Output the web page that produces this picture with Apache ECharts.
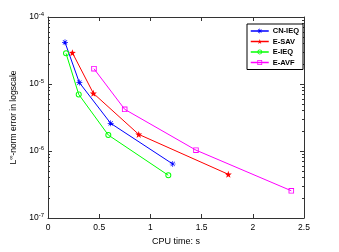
<!DOCTYPE html>
<html><head><meta charset="utf-8">
<script src="https://cdn.jsdelivr.net/npm/echarts@6/dist/echarts.min.js"></script>
<style>html,body{margin:0;padding:0;background:#fff}#c{width:339px;height:252px}</style>
</head><body><div id="c"></div>
<script>
var seriesNames = ['CN-IEQ','E-SAV','E-IEQ','E-AVF'];
var cnIeqX = [0.166, 0.306, 0.612, 1.218];
var cnIeqY = [4.19e-5, 1.05e-5, 2.59e-6, 6.4e-7];
var eSavX = [0.238, 0.443, 0.886, 1.761];
var eSavY = [2.93e-5, 7.26e-6, 1.77e-6, 4.49e-7];
var eIeqX = [0.176, 0.300, 0.589, 1.175];
var eIeqY = [2.87e-5, 7.0e-6, 1.73e-6, 4.34e-7];
var eAvfX = [0.449, 0.749, 1.445, 2.376];
var eAvfY = [1.69e-5, 4.19e-6, 1.03e-6, 2.55e-7];
var xTicks = [0, 0.5, 1, 1.5, 2, 2.5];
var yMajorTicks = [1e-7, 1e-6, 1e-5, 1e-4];
var yMinorTicks = [];
[1e-7,1e-6,1e-5].forEach(function(d){ for (var k=2;k<=9;k++) yMinorTicks.push(d*k); });

function pairs(xs, ys){ return xs.map(function(x,i){ return [x, ys[i]]; }); }

var asterisk = 'path://M-1.1,-10L1.1,-10L1.1,10L-1.1,10Z M-10,-1.1L10,-1.1L10,1.1L-10,1.1Z M-7.9,-6.3L-6.3,-7.9L7.9,6.3L6.3,7.9Z M6.3,-7.9L7.9,-6.3L-6.3,7.9L-7.9,6.3Z';
var star = 'path://M0,-10L2.35,-3.24L9.51,-3.09L3.8,1.24L5.88,8.09L0,4L-5.88,8.09L-3.8,1.24L-9.51,-3.09L-2.35,-3.24Z';
var ring = 'path://M0,-10A10,10 0 1,1 0,10A10,10 0 1,1 0,-10Z M0,-6.8A6.8,6.8 0 1,0 0,6.8A6.8,6.8 0 1,0 0,-6.8Z';
var square = 'path://M-10,-10L10,-10L10,10L-10,10Z M-6.8,-6.8L-6.8,6.8L6.8,6.8L6.8,-6.8Z';

var font = 'Liberation Sans, Arial, sans-serif';
var axisColor = '#333';

function yAxisDef(pos, ticks, len, showLabel){
  return {
    type: 'log', logBase: 10, min: 1e-7, max: 1e-4, position: pos,
    axisLine: { show: showLabel, lineStyle: { color: axisColor, width: 1 } },
    axisTick: { show: true, inside: true, length: len, customValues: ticks, lineStyle: { color: axisColor } },
    axisLabel: showLabel && pos === 'left' ? {
      show: true, customValues: yMajorTicks, margin: 4, color: '#000', fontFamily: font, fontSize: 8.5,
      formatter: function(v){ return '10{sup|' + Math.round(Math.log10(v)) + '}'; },
      rich: { sup: { fontSize: 6, verticalAlign: 'top', padding: [0,0,5,0], fontFamily: font, color: '#000' } }
    } : { show: false },
    splitLine: { show: false },
    name: showLabel && pos === 'left' ? 'L{sup|∞}-norm error in logscale' : '',
    nameLocation: 'middle', nameGap: 23,
    nameTextStyle: { color: '#000', fontFamily: font, fontSize: 8.5,
      rich: { sup: { fontSize: 6, verticalAlign: 'top', padding: [0,0,5,0], fontFamily: font, color: '#000' } } }
  };
}

var chart = echarts.init(document.getElementById('c'), null, { renderer: 'canvas' });
chart.setOption({
  animation: false,
  backgroundColor: '#fff',
  grid: { left: 48, right: 35, top: 17, bottom: 34 },
  xAxis: [
    { type: 'value', min: 0, max: 2.5, interval: 0.5, position: 'bottom',
      axisLine: { lineStyle: { color: axisColor, width: 1 } },
      axisTick: { inside: true, length: 4, lineStyle: { color: axisColor } },
      axisLabel: { color: '#000', fontFamily: font, fontSize: 8.5, margin: 5,
        formatter: function(v){ return String(v); } },
      splitLine: { show: false },
      name: 'CPU time: s', nameLocation: 'middle', nameGap: 19,
      nameTextStyle: { color: '#000', fontFamily: font, fontSize: 9 } },
    { type: 'value', min: 0, max: 2.5, interval: 0.5, position: 'top',
      axisLine: { lineStyle: { color: axisColor, width: 1 } },
      axisTick: { inside: true, length: 4, lineStyle: { color: axisColor } },
      axisLabel: { show: false }, splitLine: { show: false } }
  ],
  yAxis: [
    yAxisDef('left', yMajorTicks, 4, true),
    yAxisDef('left', yMinorTicks, 2, false),
    yAxisDef('right', yMajorTicks, 4, true),
    yAxisDef('right', yMinorTicks, 2, false)
  ],
  legend: {
    orient: 'vertical', left: 247, top: 24, width: 49,
    backgroundColor: '#fff', borderColor: '#000', borderWidth: 1, borderRadius: 0,
    padding: [3, 4, 3, 3], itemGap: 2.5, itemWidth: 18, itemHeight: 6,
    lineStyle: { width: 1.5 },
    textStyle: { color: '#000', fontFamily: font, fontSize: 7.5, fontWeight: 'bold', padding: [0,0,0,-1] },
    data: seriesNames
  },
  series: [
    { name: seriesNames[0], type: 'line', data: pairs(cnIeqX, cnIeqY),
      symbol: asterisk, symbolSize: 6, color: '#0000ff',
      lineStyle: { width: 1, color: '#0000ff' }, itemStyle: { color: '#0000ff', borderWidth: 0 } },
    { name: seriesNames[1], type: 'line', data: pairs(eSavX, eSavY),
      symbol: star, symbolSize: 7, color: '#ff0000',
      lineStyle: { width: 1, color: '#ff0000' }, itemStyle: { color: '#ff0000', borderWidth: 0 } },
    { name: seriesNames[2], type: 'line', data: pairs(eIeqX, eIeqY),
      symbol: ring, symbolSize: 6, color: '#00ff00',
      lineStyle: { width: 1, color: '#00ff00' }, itemStyle: { color: '#00ff00', borderWidth: 0 } },
    { name: seriesNames[3], type: 'line', data: pairs(eAvfX, eAvfY),
      symbol: square, symbolSize: 5.5, color: '#ff00ff',
      lineStyle: { width: 1, color: '#ff00ff' }, itemStyle: { color: '#ff00ff', borderWidth: 0 } }
  ]
});
</script></body></html>
